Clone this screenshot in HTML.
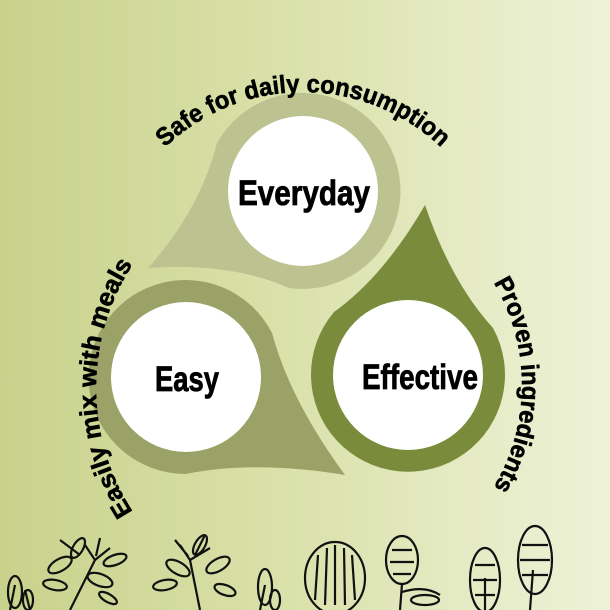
<!DOCTYPE html>
<html><head><meta charset="utf-8"><style>
html,body{margin:0;padding:0;width:610px;height:610px;overflow:hidden}
svg{display:block}
text{font-family:"Liberation Sans",sans-serif;font-weight:bold;fill:#000}
</style></head><body>
<svg width="610" height="610" viewBox="0 0 610 610" xmlns="http://www.w3.org/2000/svg">
<defs>
<linearGradient id="bg" x1="0" y1="0" x2="1" y2="0">
<stop offset="0" stop-color="#c8d28b"/>
<stop offset="0.5" stop-color="#dbe2ad"/>
<stop offset="1" stop-color="#eef2d8"/>
</linearGradient>
<path id="pTop" d="M103,292 A200,200 0 0 1 503,292"/>
<path id="pRight" d="M323,186 A199,199 0 0 1 323,584"/>
<path id="pLeft" d="M323,615 A227,227 0 0 1 323,161"/>
</defs>
<rect width="610" height="610" fill="url(#bg)"/>

<path d="M148,268 Q200,210 217,143 A98,98 0 1 1 289,288 Q230,262 148,268 Z" fill="#bcc290"/>
<circle cx="303" cy="191" r="75" fill="#fff"/>
<path d="M345,475 Q290,400 272,333 A97,97 0 1 0 185.5,474 Q255,460 345,475 Z" fill="#9aa268"/>
<circle cx="186" cy="377" r="75" fill="#fff"/>
<path d="M425,205 Q451,282 493,328 A97,97 0 1 1 334,312 Q384,276 425,205 Z" fill="#7a8c3c"/>
<circle cx="408" cy="375" r="75" fill="#fff"/>

<g stroke="#000" stroke-width="0.8">
<text x="304" y="205" font-size="35" text-anchor="middle" textLength="132" lengthAdjust="spacingAndGlyphs">Everyday</text>
<text x="187" y="391" font-size="35" text-anchor="middle" textLength="64" lengthAdjust="spacingAndGlyphs">Easy</text>
<text x="420" y="389" font-size="35" text-anchor="middle" textLength="116" lengthAdjust="spacingAndGlyphs">Effective</text>
</g>
<g stroke="#000" stroke-width="0.6">
<text font-size="25"><textPath href="#pTop" startOffset="50%" text-anchor="middle" textLength="305" lengthAdjust="spacingAndGlyphs">Safe for daily consumption</textPath></text>
<text font-size="25"><textPath href="#pRight" startOffset="50%" text-anchor="middle" textLength="215" lengthAdjust="spacingAndGlyphs">Proven ingredients</textPath></text>
<text font-size="25"><textPath href="#pLeft" startOffset="50%" text-anchor="middle" textLength="262" lengthAdjust="spacingAndGlyphs">Easily mix with meals</textPath></text>
</g>

<g fill="none" stroke="#111" stroke-width="2.2">
<path d="M70,610 L95,560 M95,560 L85,545 M95,560 L110,548 M60,540 L80,555 M100,538 L96,556"/>
<ellipse cx="60" cy="565" rx="13" ry="6" transform="rotate(-30 60 565)"/>
<ellipse cx="78" cy="548" rx="11" ry="5" transform="rotate(-60 78 548)"/>
<ellipse cx="100" cy="580" rx="13" ry="6" transform="rotate(20 100 580)"/>
<ellipse cx="115" cy="560" rx="12" ry="5" transform="rotate(-20 115 560)"/>
<ellipse cx="55" cy="585" rx="12" ry="5" transform="rotate(10 55 585)"/>
<ellipse cx="108" cy="598" rx="10" ry="4" transform="rotate(30 108 598)"/>
<path d="M200,610 L190,560 M190,560 L180,545 M190,560 L210,548 M175,540 L188,556 M205,535 L195,555"/>
<ellipse cx="178" cy="568" rx="13" ry="6" transform="rotate(30 178 568)"/>
<ellipse cx="200" cy="545" rx="11" ry="5" transform="rotate(-60 200 545)"/>
<ellipse cx="218" cy="565" rx="13" ry="6" transform="rotate(-30 218 565)"/>
<ellipse cx="165" cy="585" rx="12" ry="5" transform="rotate(-10 165 585)"/>
<ellipse cx="225" cy="590" rx="11" ry="5" transform="rotate(20 225 590)"/>
<path d="M10,610 L15,585 M30,610 L25,590 M260,610 L265,585"/>
<ellipse cx="15" cy="592" rx="7" ry="16"/>
<ellipse cx="28" cy="600" rx="5" ry="10"/>
<ellipse cx="265" cy="587" rx="7" ry="18"/>
<ellipse cx="275" cy="600" rx="5" ry="10"/>
<ellipse cx="335" cy="578" rx="30" ry="36"/>
<path d="M315,600 L318,555 M325,605 L327,548 M335,605 L335,545 M345,605 L344,548 M355,600 L352,555"/>
<ellipse cx="402" cy="560" rx="16" ry="24"/>
<path d="M392,550 L412,550 M390,562 L414,562 M393,574 L411,574"/>
<path d="M402,584 L400,610 M402,592 Q425,585 440,595"/>
<ellipse cx="425" cy="600" rx="14" ry="5"/>
<ellipse cx="485" cy="580" rx="15" ry="32"/>
<path d="M475,565 L495,565 M473,580 L497,580 M475,595 L495,595"/>
<ellipse cx="535" cy="560" rx="17" ry="34"/>
<path d="M522,545 L548,545 M520,560 L550,560 M522,575 L548,575"/>
<path d="M485,610 L485,578 M530,610 L533,570"/>
</g>
</svg>
</body></html>
